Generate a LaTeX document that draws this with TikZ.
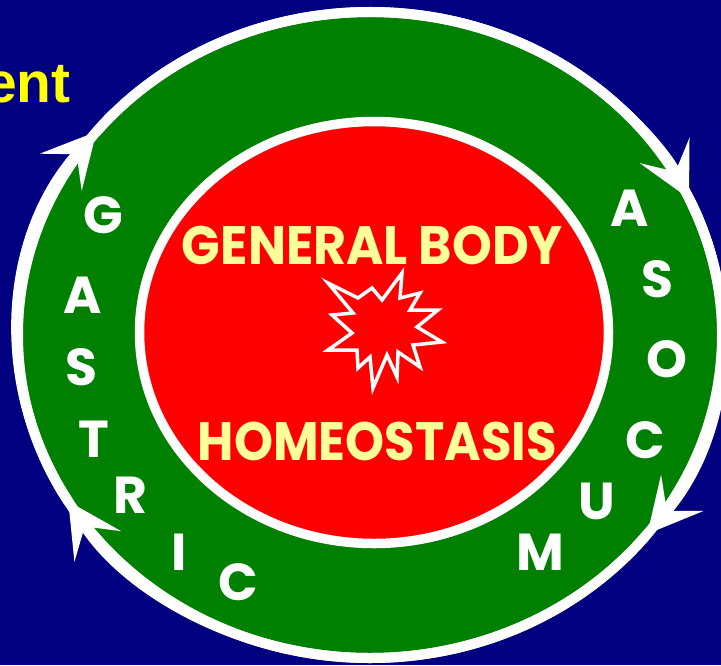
\documentclass[tikz,border=0pt]{standalone}
\usepackage{fontspec}
\usepackage{graphicx}
\usetikzlibrary{arrows.meta}
\newfontfamily\popfont{Poppins}
\newfontfamily\arialfont{Liberation Sans}
\definecolor{bgnavy}{RGB}{0,0,128}
\definecolor{ringgreen}{RGB}{0,128,0}
\definecolor{corered}{RGB}{255,0,0}
\definecolor{paleyellow}{RGB}{255,255,153}
\definecolor{titleyellow}{RGB}{255,255,0}
\tikzset{
  ringline/.style={draw=white, line width=10pt},
  arrowring/.style={draw=white, line width=10pt,
     -{Stealth[length=54pt, width=56pt, inset=24pt, line width=0pt]}},
  ringletter/.style={anchor=base, text=white, font=\popfont\bfseries\fontsize{52}{52}\selectfont, inner sep=0pt},
  coretext/.style={anchor=base, text=paleyellow, font=\popfont\bfseries\fontsize{54}{54}\selectfont, inner sep=0pt},
}
\begin{document}
\begin{tikzpicture}[x=1pt, y=-1pt]
\useasboundingbox (0,0) rectangle (721,665);
\clip (0,0) rectangle (721,665);
\fill[bgnavy] (0,0) rectangle (721,665);
% outer ring
\coordinate (C) at (370,335);
\fill[ringgreen] (C) ellipse [x radius=352pt, y radius=323pt];
\draw[ringline] (C) ellipse [x radius=352pt, y radius=323pt];
\draw[arrowring] (C) ++(141:352pt and 323pt) arc[start angle=141, end angle=25, x radius=352pt, y radius=323pt];
\draw[arrowring] (C) ++(25:352pt and 323pt) arc[start angle=25, end angle=-38, x radius=352pt, y radius=323pt];
\draw[arrowring] (C) ++(-38:352pt and 323pt) arc[start angle=-38, end angle=-149, x radius=352pt, y radius=323pt];
\draw[arrowring] (C) ++(211:352pt and 323pt) arc[start angle=211, end angle=141, x radius=352pt, y radius=323pt];
% inner core
\coordinate (K) at (374,332.5);
\filldraw[fill=corered, draw=white, line width=9.5pt] (K) ellipse [x radius=234.5pt, y radius=211pt];
% starburst
\draw[white, line width=3.5pt, line join=miter, miter limit=20]
  (328,283) -- (358,298) -- (372,288) -- (382,300) -- (402,273) -- (400,298)
  -- (420,293) -- (410,310) -- (438,310) -- (417,327) -- (442,342) -- (413,345)
  -- (420,367) -- (398,352) -- (397,377) -- (387,355) -- (373,388) -- (370,357)
  -- (358,368) -- (357,350) -- (328,350) -- (352,333) -- (332,315) -- (353,313) -- cycle;
% core texts
\node[coretext] (gb) at (372.5,264) {\resizebox{381pt}{\height}{GENERAL BODY}};
\node[coretext] (hs) at (377.5,460) {\resizebox{359pt}{\height}{HOMEOSTASIS}};
% GASTRIC
\node[ringletter] (g1) at (103,233) {G};
\node[ringletter] (g2) at (83,313) {A};
\node[ringletter] (g3) at (81,385) {S};
\node[ringletter] (g4) at (94,457) {T};
\node[ringletter] (g5) at (130,513) {R};
\node[ringletter] (g6) at (179,570) {I};
\node[ringletter] (g7) at (238,600) {C};
% MUCOSA
\node[ringletter] (m1) at (540,570) {M};
\node[ringletter] (m2) at (597,519) {U};
\node[ringletter] (m3) at (645,458) {C};
\node[ringletter] (m4) at (667,377) {O};
\node[ringletter] (m5) at (657,297) {S};
\node[ringletter] (m6) at (630,226) {A};
% cut title
\node[anchor=base east, text=titleyellow, font=\arialfont\bfseries\fontsize{57}{57}\selectfont, inner sep=0pt] (ttl) at (71,102) {ent};
\end{tikzpicture}
\end{document}
